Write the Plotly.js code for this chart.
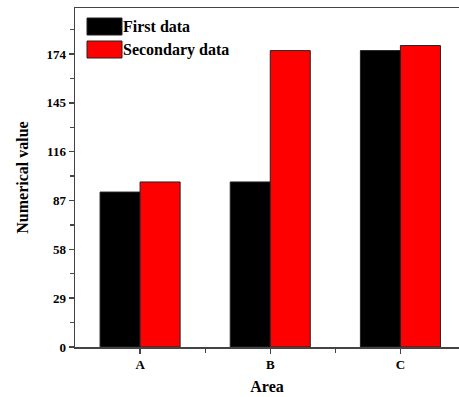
<!DOCTYPE html>
<html>
<head>
<meta charset="utf-8">
<script src="https://cdn.plot.ly/plotly-3.0.1.min.js"></script>
<style>html,body{margin:0;padding:0;background:#fff;}#chart{width:459px;height:397px;}</style>
</head>
<body>
<div id="chart"></div>
<script>
const categories = ["A", "B", "C"];
const seriesNames = ["First data", "Secondary data"];
const firstData = [92, 98, 176];
const secondaryData = [98, 176, 179];
const yTickVals = [0, 29, 58, 87, 116, 145, 174];
const yTickText = ["0", "29", "58", "87", "116", "145", "174"];

const xIdx = categories.map((c, i) => i);
const font = {family: "Liberation Serif, Times New Roman, serif", color: "#000"};

const traces = [
  {type: "bar", x: xIdx, y: firstData, name: seriesNames[0],
   marker: {color: "#000000", line: {color: "#222", width: 1}}},
  {type: "bar", x: xIdx, y: secondaryData, name: seriesNames[1],
   marker: {color: "#ff0000", line: {color: "#222", width: 1}}}
];

const layout = {
  width: 459, height: 397,
  margin: {l: 75, r: 0, t: 8, b: 50},
  paper_bgcolor: "#fff", plot_bgcolor: "#fff",
  showlegend: false,
  barmode: "group", bargap: 0.385, bargroupgap: 0,
  font: {family: font.family, size: 13, color: "#000"},
  xaxis: {
    range: [-0.5, 2.45], tickmode: "array", tickvals: xIdx, ticktext: categories.map(c => "<b>" + c + "</b>"),
    showgrid: false, zeroline: false, showline: true, linecolor: "#444", linewidth: 1.5, mirror: true,
    ticks: "outside", ticklen: 5, tickcolor: "#444", tickwidth: 1.5,
    minor: {tickmode: "array", tickvals: [0.5, 1.5], ticks: "outside", ticklen: 4, tickcolor: "#444", tickwidth: 1.2, showgrid: false},
    tickfont: {family: font.family, size: 13, color: "#000"},
    title: {text: "<b>Area</b>", font: {family: font.family, size: 16, color: "#000"}, standoff: 9}
  },
  yaxis: {
    range: [0, 201.3], tickmode: "array", tickvals: yTickVals, ticktext: yTickText.map(t => "<b>" + t + "</b>"),
    showgrid: false, zeroline: false, showline: true, linecolor: "#444", linewidth: 1.5,
    ticks: "outside", ticklen: 5, tickcolor: "#444", tickwidth: 1.5,
    minor: {dtick: 14.5, tick0: 0, ticks: "outside", ticklen: 4, tickcolor: "#444", tickwidth: 1.2, showgrid: false},
    tickfont: {family: font.family, size: 13, color: "#000"},
    title: {text: "<b>Numerical value</b>", font: {family: font.family, size: 16, color: "#000"}, standoff: 14}
  },
  shapes: [
    {type: "rect", xref: "paper", yref: "paper", x0: 12/384, x1: 47/384, y0: 1 - 27/339, y1: 1 - 10/339,
     fillcolor: "#000", line: {color: "#222", width: 1}},
    {type: "rect", xref: "paper", yref: "paper", x0: 12/384, x1: 47/384, y0: 1 - 50/339, y1: 1 - 33/339,
     fillcolor: "#ff0000", line: {color: "#222", width: 1}}
  ],
  annotations: [
    {xref: "paper", yref: "paper", x: 46/384, y: 1 - 18.5/339, xanchor: "left", yanchor: "middle", showarrow: false,
     text: "<b>" + seriesNames[0] + "</b>", font: {family: font.family, size: 16, color: "#000"}},
    {xref: "paper", yref: "paper", x: 46/384, y: 1 - 41.5/339, xanchor: "left", yanchor: "middle", showarrow: false,
     text: "<b>" + seriesNames[1] + "</b>", font: {family: font.family, size: 16, color: "#000"}}
  ]
};

Plotly.newPlot("chart", traces, layout, {displayModeBar: false, staticPlot: true});
</script>
</body>
</html>
